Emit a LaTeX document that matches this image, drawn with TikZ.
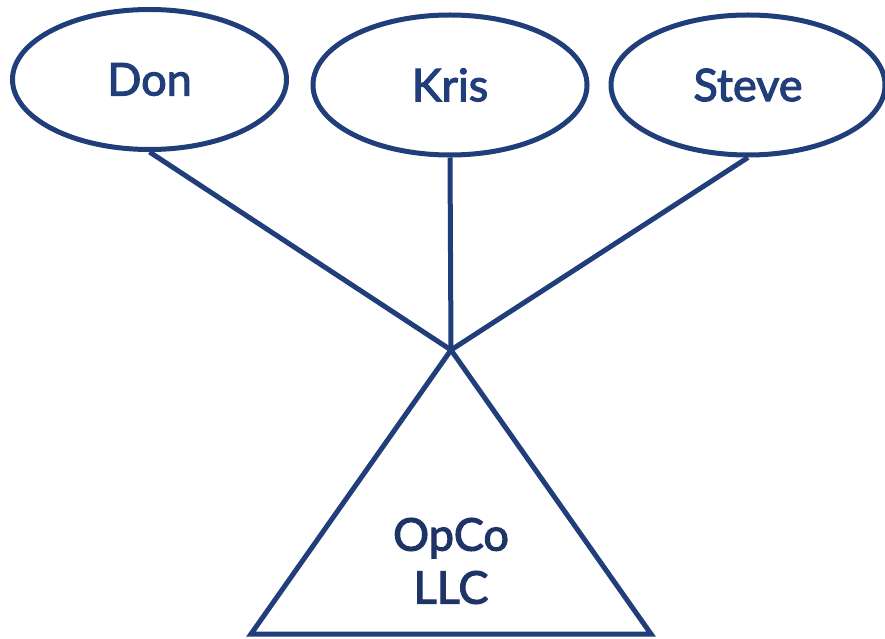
\documentclass[tikz,border=0pt]{standalone}
\usepackage{fontspec}
\setmainfont{Lato}
\newfontfamily\labelfont{Lato}[FakeBold=2.5]
\usetikzlibrary{shapes.geometric}
\definecolor{navy}{RGB}{31,62,122}
\definecolor{navytext}{RGB}{30,52,102}
\begin{document}
\begin{tikzpicture}[x=1pt,y=1pt,
  person/.style={ellipse,draw=navy,line width=5pt,inner sep=0pt,
    minimum width=274pt,minimum height=140pt,text=navy,
    font=\fontsize{45}{53}\selectfont\labelfont},
  link/.style={draw=navy,line width=5pt},
  entity/.style={draw=navy,line width=5pt,line join=miter}]
\useasboundingbox (0,0) rectangle (885,638);
\node[person] (don) at (149.5,558.5) {Don};
\node[person] (kris) at (450,553) {Kris};
\node[person] (steve) at (748,553) {Steve};
\coordinate (apex) at (451,288);
\coordinate (bl) at (251,4);
\coordinate (br) at (651,4);
\draw[link] (don.south) -- (apex);
\draw[link] (kris.south) -- (apex);
\draw[link] (steve.south) -- (apex);
\draw[entity] (apex) -- (br) -- (bl) -- cycle;
\node[text=navytext,align=center,inner sep=0pt,
  font=\fontsize{45}{53}\selectfont\labelfont] (opco) at (451,77) {OpCo\\LLC};
\end{tikzpicture}
\end{document}
